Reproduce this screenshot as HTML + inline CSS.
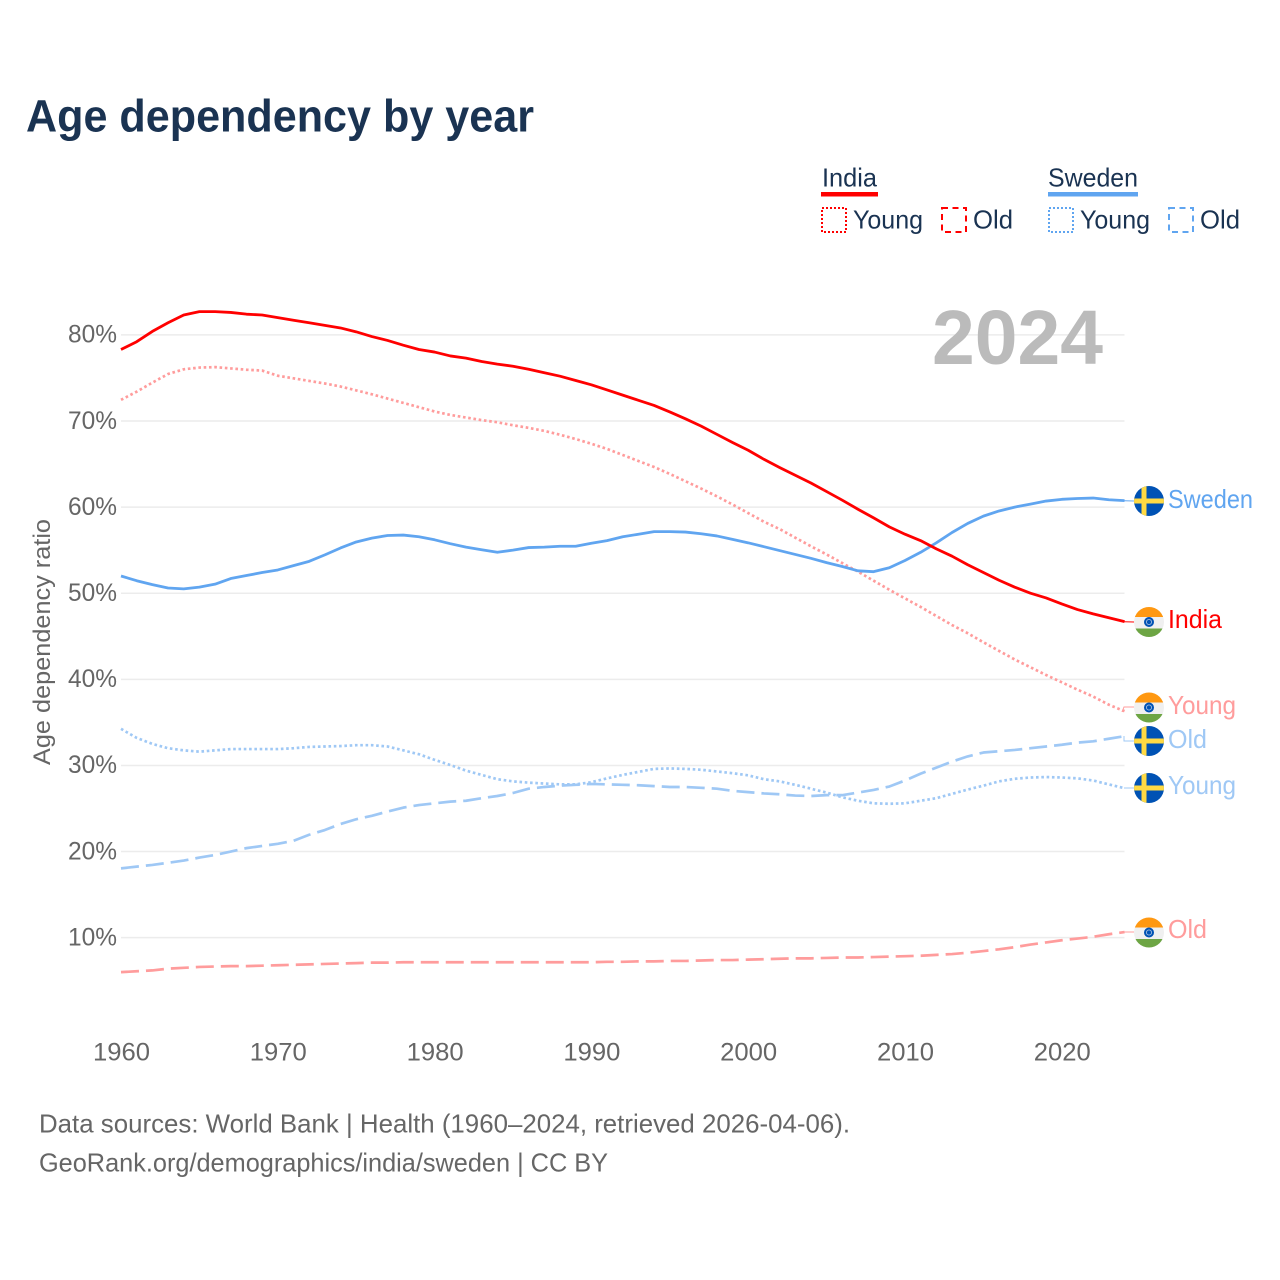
<!DOCTYPE html>
<html lang="en">
<head>
<meta charset="utf-8">
<title>Age dependency by year</title>
<style>
html,body{margin:0;padding:0;background:#fff;}
svg{display:block;font-family:"Liberation Sans",sans-serif;}
</style>
</head>
<body>
<svg id="chart" xmlns="http://www.w3.org/2000/svg" width="1280" height="1280" viewBox="0 0 1280 1280">
  <defs>
    <clipPath id="flag-clip"><circle cx="0" cy="0" r="15"/></clipPath>
    <g id="flag-india" clip-path="url(#flag-clip)">
      <rect x="-15" y="-15" width="30" height="30" fill="#f0f0f0"/>
      <rect x="-15" y="-15" width="30" height="10" fill="#ff9811"/>
      <rect x="-15" y="6.5" width="30" height="9" fill="#6da544"/>
      <circle r="5" fill="#0052b4"/>
      <circle r="2.6" fill="none" stroke="#9db9dd" stroke-width="0.9"/>
    </g>
    <g id="flag-sweden" clip-path="url(#flag-clip)">
      <rect x="-15" y="-15" width="30" height="30" fill="#0052b4"/>
      <rect x="-7.5" y="-15" width="5" height="30" fill="#ffda44"/>
      <rect x="-15" y="-2.5" width="30" height="5" fill="#ffda44"/>
    </g>
  </defs>

  <text x="26" y="131.5" font-size="45" font-weight="700" fill="#1a3352" textLength="508" lengthAdjust="spacingAndGlyphs">Age dependency by year</text>

  <g id="grid"></g>
  <g id="y-axis"></g>
  <g id="x-axis"></g>

  <text transform="translate(50,765) rotate(-90)" font-size="24" fill="#666" textLength="246" lengthAdjust="spacingAndGlyphs">Age dependency ratio</text>

  <text x="932" y="364" font-size="77" font-weight="700" fill="#bbbbbb" textLength="171" lengthAdjust="spacingAndGlyphs">2024</text>

  <g id="series"></g>

  <g>
    <g>
      <text x="822" y="186.5" font-size="26" fill="#1a3352" textLength="55" lengthAdjust="spacingAndGlyphs">India</text>
      <rect x="821" y="192" width="57" height="4.5" fill="#ff0000"/>
      <rect x="822" y="208" width="24" height="24" fill="none" stroke="#ff0000" stroke-width="2" stroke-dasharray="2 2"/>
      <text x="853" y="228.5" font-size="26" fill="#1a3352" textLength="70" lengthAdjust="spacingAndGlyphs">Young</text>
      <rect x="942" y="208" width="24" height="24" fill="none" stroke="#ff0000" stroke-width="2" stroke-dasharray="6 4.5"/>
      <text x="973" y="228.5" font-size="26" fill="#1a3352" textLength="40" lengthAdjust="spacingAndGlyphs">Old</text>
    </g>
    <g>
      <text x="1048" y="186.5" font-size="26" fill="#1a3352" textLength="90" lengthAdjust="spacingAndGlyphs">Sweden</text>
      <rect x="1048" y="192" width="90" height="4.5" fill="#60a5f0"/>
      <rect x="1049" y="208" width="24" height="24" fill="none" stroke="#60a5f0" stroke-width="2" stroke-dasharray="2 2"/>
      <text x="1080" y="228.5" font-size="26" fill="#1a3352" textLength="70" lengthAdjust="spacingAndGlyphs">Young</text>
      <rect x="1169" y="208" width="24" height="24" fill="none" stroke="#60a5f0" stroke-width="2" stroke-dasharray="6 4.5"/>
      <text x="1200" y="228.5" font-size="26" fill="#1a3352" textLength="40" lengthAdjust="spacingAndGlyphs">Old</text>
    </g>
  </g>

  <g>
    <polyline points="1124,500.8 1134,501" fill="none" stroke="#60a5f0" stroke-width="1"/>
    <polyline points="1124,621.7 1134,622" fill="none" stroke="#ff0000" stroke-width="1"/>
    <polyline points="1122,712 1124,707 1134,707" fill="none" stroke="#ff9c9c" stroke-width="1"/>
    <polyline points="1124,736 1124,741 1134,741" fill="none" stroke="#9fc8f5" stroke-width="1"/>
    <polyline points="1124,788 1134,788" fill="none" stroke="#9fc8f5" stroke-width="1"/>
    <polyline points="1124,932 1134,932" fill="none" stroke="#ff9c9c" stroke-width="1"/>

    <use href="#flag-sweden" x="1149" y="501"/>
    <use href="#flag-india" x="1149" y="622"/>
    <use href="#flag-india" x="1149" y="707.5"/>
    <use href="#flag-sweden" x="1149" y="741"/>
    <use href="#flag-sweden" x="1149" y="788"/>
    <use href="#flag-india" x="1149" y="932.5"/>

    <text x="1168" y="508" font-size="26" fill="#60a5f0" textLength="85" lengthAdjust="spacingAndGlyphs">Sweden</text>
    <text x="1168" y="628" font-size="26" fill="#ff0000" textLength="54" lengthAdjust="spacingAndGlyphs">India</text>
    <text x="1168" y="714" font-size="26" fill="#ff9c9c" textLength="68" lengthAdjust="spacingAndGlyphs">Young</text>
    <text x="1168" y="748" font-size="26" fill="#9fc8f5" textLength="39" lengthAdjust="spacingAndGlyphs">Old</text>
    <text x="1168" y="794" font-size="26" fill="#9fc8f5" textLength="68" lengthAdjust="spacingAndGlyphs">Young</text>
    <text x="1168" y="938" font-size="26" fill="#ff9c9c" textLength="39" lengthAdjust="spacingAndGlyphs">Old</text>
  </g>

  <text x="39" y="1132.5" font-size="26" fill="#666" textLength="811" lengthAdjust="spacingAndGlyphs">Data sources: World Bank | Health (1960–2024, retrieved 2026-04-06).</text>
  <text x="39" y="1171.5" font-size="26" fill="#666" textLength="569" lengthAdjust="spacingAndGlyphs">GeoRank.org/demographics/india/sweden | CC BY</text>
</svg>

<script>
var firstYear = 1960;
var yTickValues = [10, 20, 30, 40, 50, 60, 70, 80];
var xTickYears = [1960, 1970, 1980, 1990, 2000, 2010, 2020];

var indiaTotal = [78.3,79.2,80.4,81.4,82.3,82.7,82.7,82.6,82.4,82.3,82.0,81.7,81.4,81.1,80.8,80.35,79.8,79.35,78.8,78.3,78.0,77.55,77.3,76.9,76.6,76.35,76.0,75.6,75.2,74.7,74.2,73.6,73.0,72.4,71.8,71.05,70.25,69.4,68.45,67.5,66.6,65.55,64.6,63.7,62.8,61.8,60.8,59.75,58.75,57.7,56.85,56.1,55.15,54.3,53.3,52.4,51.5,50.7,50.0,49.45,48.75,48.1,47.6,47.15,46.7];
var indiaYoung = [72.45,73.4,74.45,75.45,76.0,76.2,76.25,76.1,75.95,75.85,75.25,74.95,74.65,74.35,74.0,73.55,73.1,72.6,72.1,71.6,71.1,70.7,70.4,70.1,69.85,69.5,69.2,68.85,68.4,67.9,67.35,66.75,66.05,65.35,64.65,63.85,63.0,62.15,61.25,60.3,59.3,58.3,57.45,56.45,55.45,54.5,53.5,52.5,51.45,50.4,49.4,48.4,47.35,46.3,45.35,44.3,43.3,42.3,41.4,40.5,39.65,38.8,38.0,37.05,36.3];
var indiaOld = [6.0,6.1,6.2,6.4,6.5,6.6,6.65,6.7,6.7,6.75,6.8,6.85,6.9,6.95,7.0,7.05,7.1,7.1,7.15,7.15,7.15,7.15,7.15,7.15,7.15,7.15,7.15,7.15,7.15,7.15,7.15,7.2,7.2,7.25,7.25,7.3,7.3,7.35,7.4,7.4,7.45,7.5,7.55,7.6,7.6,7.65,7.7,7.7,7.75,7.8,7.85,7.9,8.0,8.1,8.25,8.45,8.65,8.9,9.2,9.45,9.7,9.9,10.1,10.4,10.65];
var swedenTotal = [52.0,51.45,51.0,50.6,50.5,50.7,51.05,51.7,52.05,52.4,52.7,53.2,53.7,54.45,55.25,55.95,56.4,56.7,56.75,56.55,56.2,55.75,55.35,55.05,54.75,55.0,55.3,55.35,55.45,55.45,55.8,56.1,56.55,56.85,57.15,57.15,57.1,56.9,56.65,56.25,55.85,55.4,54.95,54.5,54.05,53.55,53.1,52.6,52.5,52.95,53.8,54.75,55.85,57.05,58.1,58.95,59.55,60.0,60.35,60.7,60.9,61.0,61.05,60.85,60.75];
var swedenYoung = [34.25,33.2,32.5,32.0,31.75,31.6,31.75,31.9,31.9,31.9,31.9,32.0,32.15,32.2,32.25,32.35,32.35,32.2,31.75,31.3,30.65,30.05,29.4,28.9,28.4,28.15,28.0,27.9,27.8,27.8,28.05,28.5,28.9,29.25,29.6,29.65,29.6,29.5,29.3,29.1,28.85,28.4,28.15,27.75,27.3,26.85,26.3,25.9,25.6,25.55,25.6,25.9,26.2,26.7,27.2,27.65,28.15,28.45,28.6,28.65,28.6,28.5,28.25,27.8,27.35];
var swedenOld = [18.05,18.25,18.45,18.7,18.95,19.3,19.6,20.0,20.4,20.65,20.9,21.25,21.95,22.5,23.2,23.75,24.15,24.65,25.1,25.4,25.6,25.8,25.9,26.2,26.45,26.8,27.3,27.5,27.65,27.75,27.85,27.8,27.75,27.7,27.6,27.5,27.5,27.4,27.3,27.05,26.9,26.75,26.65,26.5,26.45,26.55,26.55,26.85,27.15,27.55,28.25,29.05,29.75,30.45,31.05,31.5,31.65,31.8,32.0,32.2,32.4,32.65,32.8,33.1,33.4];

var SVG_NS = 'http://www.w3.org/2000/svg';

function xScale(year) {
  return 121 + (year - 1960) * 15.68;
}
function yScale(value) {
  return 1023.8 - value * 8.612;
}

var gridLayer = document.getElementById('grid');
var yAxisLayer = document.getElementById('y-axis');
var xAxisLayer = document.getElementById('x-axis');
var seriesLayer = document.getElementById('series');

yTickValues.forEach(function (value) {
  var line = document.createElementNS(SVG_NS, 'line');
  
  
  line.setAttribute('x1', xScale(1960));
  line.setAttribute('x2', xScale(2024));
  line.setAttribute('y1', yScale(value));
  line.setAttribute('y2', yScale(value));
  line.setAttribute('stroke', '#ececec');
  line.setAttribute('stroke-width', '1.5');
  gridLayer.appendChild(line);

  var label = document.createElementNS(SVG_NS, 'text');
  
  
  label.setAttribute('x', 68);
  label.setAttribute('y', yScale(value) + 7.8);
  label.setAttribute('font-size', '25');
  label.setAttribute('fill', '#666');
  label.setAttribute('textLength', '49');
  label.setAttribute('lengthAdjust', 'spacingAndGlyphs');
  label.textContent = value + '%';
  yAxisLayer.appendChild(label);
});

xTickYears.forEach(function (year) {
  var label = document.createElementNS(SVG_NS, 'text');
  
  
  label.setAttribute('x', xScale(year) - 28);
  label.setAttribute('y', 1060.5);
  label.setAttribute('font-size', '25');
  label.setAttribute('fill', '#666');
  label.setAttribute('textLength', '57');
  label.setAttribute('lengthAdjust', 'spacingAndGlyphs');
  label.textContent = String(year);
  xAxisLayer.appendChild(label);
});

function drawSeries(name, values, color, width, dash) {
  var points = values.map(function (value, index) {
    return xScale(firstYear + index).toFixed(2) + ',' + yScale(value).toFixed(2);
  }).join(' ');
  var line = document.createElementNS(SVG_NS, 'polyline');
  
  
  line.setAttribute('points', points);
  line.setAttribute('fill', 'none');
  line.setAttribute('stroke', color);
  line.setAttribute('stroke-width', width);
  line.setAttribute('stroke-linejoin', 'round');
  if (dash) {
    line.setAttribute('stroke-dasharray', dash);
  }
  seriesLayer.appendChild(line);
}

drawSeries('line-india-young', indiaYoung, '#ff9c9c', 2.7, '2.6 2.7');
drawSeries('line-india-old', indiaOld, '#ff9c9c', 2.7, '18 7');
drawSeries('line-sweden-young', swedenYoung, '#9fc8f5', 2.7, '2.6 2.7');
drawSeries('line-sweden-old', swedenOld, '#9fc8f5', 2.7, '18 7');
drawSeries('line-sweden-total', swedenTotal, '#60a5f0', 2.8, '');
drawSeries('line-india-total', indiaTotal, '#ff0000', 2.8, '');
</script>
</body>
</html>
